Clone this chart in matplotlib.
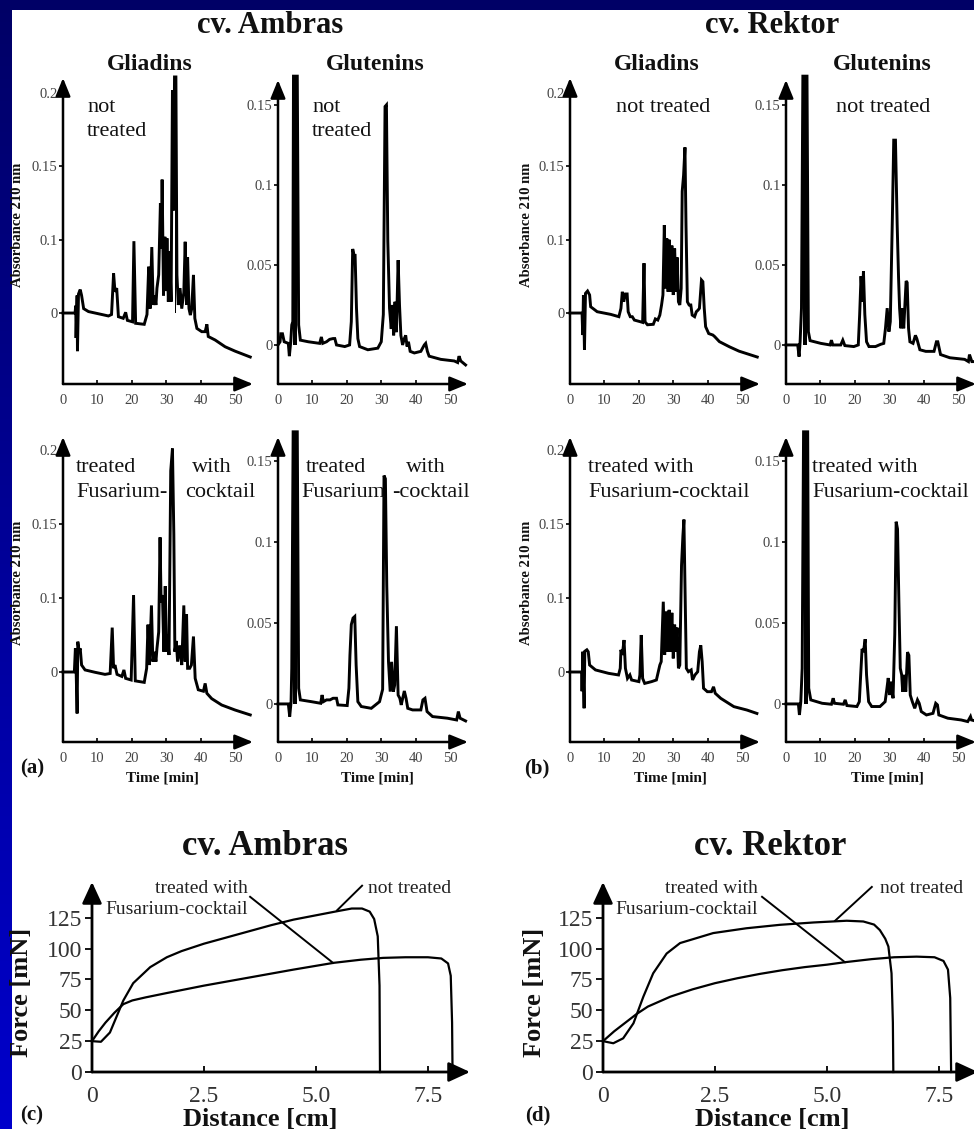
import numpy as np
import matplotlib
matplotlib.use("Agg")
import matplotlib.pyplot as plt

plt.rcParams['font.family'] = ['Liberation Serif', 'DejaVu Serif']

# ---- RP-HPLC chromatograms: (time [min], absorbance) ----
# gliadin panels use the odd original axis (0, 0.1, 0.15, 0.2 equally spaced),
# so their values are stored in tick-position units
amb_gli_nt = [(0, 0), (3.5, 0), (3.7, 0.005), (3.8, -0.017), (4.1, 0.012), (4.2, -0.026),
              (4.5, 0.013), (5.0, 0.016), (5.4, 0.012), (6.0, 0.003), (7.4, 0.001), (10.3, -0.0005),
              (13.2, -0.002), (14.1, -0.001), (14.7, 0.027), (15.1, 0.0145), (15.6, 0.017),
              (16.1, -0.0025), (17.5, -0.0036), (18.2, 0.0005), (18.7, -0.005), (20.2, -0.006),
              (20.6, 0.049), (21.1, -0.007), (23.6, -0.0077), (24.4, -0.001), (24.9, 0.0316),
              (25.3, 0.003), (25.8, 0.045), (26.2, 0.0055), (26.6, 0.012), (27.0, 0.0055),
              (27.3, 0.017), (27.8, 0.026), (28.3, 0.075), (28.6, 0.044), (28.8, 0.091),
              (29.2, 0.012), (29.6, 0.052), (29.9, 0.015), (30.2, 0.051), (30.6, 0.0077),
              (31.0, 0.042), (31.4, 0.0077), (31.8, 0.152), (32.1, 0.07), (32.4, 0.161),
              (32.8, 0.161), (33.1, 0.026), (33.5, 0.0055), (34.0, 0.017), (34.5, 0.003),
              (35.1, 0.014), (35.5, 0.0486), (35.9, 0.0055), (36.2, 0.038), (36.6, 0.003),
              (37.0, -0.0014), (37.4, 0.003), (37.9, 0.026), (38.3, -0.0036), (38.9, -0.0105),
              (40.3, -0.0127), (41.3, -0.0127), (41.8, -0.0077), (42.2, -0.016), (44.2, -0.0184),
              (47.1, -0.023), (50.0, -0.026), (54.4, -0.030)]
amb_gli_tr = [(0, 0), (3.3, 0), (3.6, 0.016), (3.8, 0.0025), (4.1, -0.028), (4.3, 0.0205),
              (4.7, 0.014), (5.0, 0.016), (5.4, 0.0047), (6.4, 0.0014), (9.3, -0.0002),
              (12.2, -0.0016), (13.7, -0.001), (14.3, 0.030), (14.7, 0.0025), (15.1, 0.0047),
              (15.7, -0.0016), (17.1, -0.003), (17.7, 0.0014), (18.2, -0.0043), (19.8, -0.0054),
              (20.5, 0.052), (21.0, -0.006), (23.6, -0.007), (24.3, 0.0025), (24.7, 0.032),
              (25.1, 0.0047), (25.7, 0.045), (26.1, 0.007), (26.6, 0.0137), (27.0, 0.007),
              (27.3, 0.016), (27.8, 0.027), (28.2, 0.091), (28.5, 0.047), (28.9, 0.052),
              (29.3, 0.0137), (29.7, 0.058), (30.1, 0.0137), (30.4, 0.025), (30.8, 0.0115),
              (31.3, 0.136), (31.8, 0.151), (32.2, 0.093), (32.5, 0.0137), (32.9, 0.021),
              (33.3, 0.007), (33.9, 0.018), (34.5, 0.0047), (35.1, 0.045), (35.5, 0.007),
              (35.9, 0.039), (36.2, 0.0025), (36.8, 0.0025), (37.3, 0.0047), (37.9, 0.024),
              (38.4, -0.0043), (39.3, -0.012), (40.8, -0.013), (41.3, -0.0077), (41.8, -0.0144),
              (43.2, -0.018), (46.1, -0.0223), (50.0, -0.0257), (54.4, -0.029)]
amb_glu_nt = [(0, 0), (0.6, 0.002), (0.8, 0.007), (1.3, 0.007), (1.8, 0.002), (3.0, 0.001),
              (3.3, -0.007), (3.7, 0.002), (4.0, 0.0125), (4.3, 0.0146), (4.5, 0.168),
              (5.6, 0.168), (6.0, 0.0125), (6.5, 0.003), (8.8, 0.002), (12.1, 0.001),
              (12.6, 0.005), (13.0, 0.001), (14.1, 0.002), (15.0, 0.0035), (16.0, 0.004),
              (16.5, 0.004), (17.0, 0.0), (19.4, -0.001), (20.8, 0.0), (21.3, 0.0146),
              (21.7, 0.060), (22.1, 0.056), (22.4, 0.056), (22.8, 0.023), (23.2, 0.004),
              (23.7, -0.001), (26.1, -0.003), (29.0, -0.002), (30.0, 0.002), (30.6, 0.019),
              (31.1, 0.149), (31.5, 0.150), (31.9, 0.065), (32.4, 0.023), (32.9, 0.010),
              (33.2, 0.025), (33.6, 0.006), (34.0, 0.027), (34.4, 0.008), (34.9, 0.053),
              (35.3, 0.025), (35.7, 0.006), (36.2, 0.0), (36.7, 0.004), (37.1, 0.006),
              (37.5, -0.001), (37.9, 0.002), (38.4, -0.004), (39.6, -0.005), (41.5, -0.004),
              (42.5, 0.0), (42.9, 0.001), (43.4, -0.004), (43.9, -0.007), (47.3, -0.009),
              (51.2, -0.010), (52.2, -0.011), (52.6, -0.007), (53.1, -0.010), (54.5, -0.0125)]
amb_glu_tr = [(0, 0), (3.0, 0), (3.4, -0.0078), (3.8, 0.0014), (4.0, 0.022), (4.4, 0.168),
              (5.6, 0.168), (6.0, 0.0097), (6.5, 0.0025), (9.7, 0.0014), (12.4, 0.0004),
              (12.8, 0.0055), (13.2, 0.0014), (14.1, 0.0025), (15.1, 0.0025), (16.0, 0.0035),
              (17.0, 0.0035), (17.4, -0.0006), (20.1, -0.001), (20.6, 0.0097), (20.9, 0.030),
              (21.3, 0.049), (21.8, 0.053), (22.3, 0.054), (22.7, 0.024), (23.2, 0.0014),
              (24.2, -0.0016), (27.1, -0.0027), (29.5, 0.0014), (30.4, 0.009), (30.8, 0.141),
              (31.2, 0.139), (31.6, 0.073), (32.1, 0.0261), (32.6, 0.0076), (33.0, 0.026),
              (33.5, 0.0076), (33.9, 0.0117), (34.4, 0.048), (34.9, 0.0055), (35.4, 0.0035),
              (35.8, -0.0006), (36.7, 0.008), (37.2, 0.0035), (37.7, -0.0027), (39.1, -0.0037),
              (41.5, -0.0037), (42.1, 0.0025), (42.7, 0.0035), (43.3, -0.0047), (44.9, -0.0078),
              (49.2, -0.0088), (51.9, -0.0099), (52.4, -0.0047), (52.9, -0.0088), (54.5, -0.0105)]
rek_gli_nt = [(0, 0), (3.5, 0), (3.7, -0.015), (3.9, 0.0123), (4.2, -0.025), (4.5, 0.0134),
              (5.1, 0.015), (5.7, 0.0123), (6.0, 0.0043), (7.9, 0.0009), (11.8, -0.0009),
              (14.2, -0.0025), (14.8, 0.0032), (15.2, 0.0145), (15.6, 0.0077), (16.1, 0.013),
              (16.6, 0.013), (16.9, 0.0009), (17.5, -0.0025), (18.1, -0.0025), (18.7, -0.0048),
              (20.4, -0.0059), (21.1, -0.0064), (21.5, 0.034), (21.8, -0.006), (22.5, -0.008),
              (24.2, -0.0077), (24.8, -0.004), (25.5, -0.0048), (26.1, -0.0014), (26.6, 0.0055),
              (27.0, 0.0123), (27.4, 0.060), (27.8, 0.0168), (28.1, 0.051), (28.5, 0.0145),
              (28.8, 0.050), (29.2, 0.0145), (29.6, 0.046), (30.0, 0.0123), (30.4, 0.044),
              (30.8, 0.0145), (31.1, 0.038), (31.5, 0.0077), (31.9, 0.0055), (32.3, 0.0168),
              (32.6, 0.083), (33.0, 0.094), (33.4, 0.113), (33.7, 0.060), (34.1, 0.0077),
              (34.6, 0.0055), (35.1, 0.0055), (35.5, -0.0014), (36.2, -0.0025), (36.7, 0.0009),
              (37.2, 0.002), (37.6, 0.0032), (38.2, 0.0225), (38.6, 0.0214), (39.0, 0.0032),
              (39.4, -0.0093), (40.3, -0.014), (41.5, -0.015), (42.0, -0.016), (43.4, -0.0195),
              (46.3, -0.023), (49.1, -0.026), (54.4, -0.030)]
rek_gli_tr = [(0, 0), (3.4, 0), (3.5, -0.013), (3.7, 0.0137), (4.1, -0.0245), (4.3, 0.014),
              (4.9, 0.015), (5.3, 0.0137), (5.7, 0.0047), (7.4, 0.0014), (11.2, -0.0009),
              (14.1, -0.002), (14.6, 0.0025), (14.8, 0.015), (15.2, 0.0115), (15.7, 0.0216),
              (16.1, 0.0025), (16.7, -0.0043), (17.4, -0.002), (17.9, -0.0054), (20.0, -0.0065),
              (20.3, -0.002), (20.7, 0.025), (21.1, -0.0043), (21.7, -0.0077), (23.7, -0.0065),
              (25.1, -0.0054), (26.1, 0.0047), (26.5, 0.007), (27.1, 0.0475), (27.5, 0.0115),
              (28.0, 0.041), (28.4, 0.0137), (28.8, 0.042), (29.2, 0.0137), (29.6, 0.040),
              (30.0, 0.0092), (30.4, 0.032), (30.7, 0.0137), (31.1, 0.030), (31.5, 0.0025),
              (31.9, 0.0047), (32.4, 0.072), (32.8, 0.092), (33.1, 0.103), (33.4, 0.059),
              (33.8, 0.0025), (34.4, 0.0002), (35.2, 0.0014), (35.6, -0.0054), (36.3, -0.002),
              (37.1, 0.0002), (37.6, 0.0137), (38.0, 0.018), (38.4, 0.007), (38.8, -0.011),
              (39.9, -0.0133), (41.1, -0.0133), (41.7, -0.01), (42.2, -0.0144), (43.8, -0.0178),
              (47.6, -0.0234), (51.4, -0.0257), (54.3, -0.028)]
rek_glu_nt = [(0, 0), (3.4, 0), (3.8, -0.0073), (4.1, 0.002), (4.5, 0.023), (4.9, 0.168),
              (6.1, 0.168), (6.5, 0.0083), (7.0, 0.0027), (10.1, 0.001), (12.8, 0.0),
              (13.2, 0.003), (13.6, 0.0), (15.9, 0.0), (16.5, 0.003), (17.1, -0.0004),
              (19.7, -0.001), (21.0, 0.0), (21.4, 0.019), (21.8, 0.043), (22.2, 0.027),
              (22.5, 0.046), (22.9, 0.019), (23.4, 0.002), (24.1, -0.001), (26.0, -0.001),
              (27.5, 0.0004), (28.4, 0.001), (28.9, 0.0104), (29.4, 0.023), (29.9, 0.0083),
              (30.3, 0.0146), (30.9, 0.079), (31.3, 0.128), (31.8, 0.128), (32.3, 0.075),
              (32.7, 0.042), (33.0, 0.023), (33.4, 0.0104), (33.8, 0.023), (34.2, 0.0104),
              (34.9, 0.040), (35.2, 0.039), (35.6, 0.0104), (36.0, 0.002), (36.9, 0.001),
              (37.6, 0.006), (38.0, 0.004), (38.9, -0.003), (40.6, -0.004), (43.0, -0.004),
              (43.7, 0.002), (44.1, 0.002), (44.9, -0.006), (47.6, -0.008), (51.9, -0.009),
              (53.0, -0.0104), (53.3, -0.006), (54.0, -0.0104), (55.0, -0.0104)]
rek_glu_tr = [(0, 0), (3.6, 0), (3.9, -0.0068), (4.3, 0.0014), (4.7, 0.022), (5.1, 0.168),
              (6.3, 0.168), (6.6, 0.0097), (7.2, 0.0025), (10.5, 0.0004), (13.2, -0.0002),
              (13.7, 0.0035), (14.1, 0.0004), (16.7, -0.0002), (17.2, 0.0025), (17.7, -0.001),
              (20.6, -0.0016), (21.3, 0.0014), (21.7, 0.018), (22.1, 0.034), (22.5, 0.032),
              (23.0, 0.040), (23.4, 0.018), (24.0, 0.0014), (24.9, -0.0016), (27.3, -0.0016),
              (28.8, 0.0014), (29.2, 0.0076), (29.7, 0.016), (30.1, 0.0055), (30.5, 0.0138),
              (31.1, 0.0035), (31.6, 0.043), (32.0, 0.1125), (32.4, 0.108), (32.8, 0.063),
              (33.2, 0.022), (33.6, 0.018), (33.9, 0.0076), (34.3, 0.018), (34.8, 0.0076),
              (35.3, 0.032), (35.7, 0.030), (36.1, 0.0055), (36.7, 0.0014), (37.4, -0.0027),
              (38.2, 0.0025), (38.7, 0.0004), (39.3, -0.0047), (40.8, -0.0068), (42.7, -0.0058),
              (43.5, 0.0004), (44.0, -0.0006), (44.4, -0.0068), (47.0, -0.0088), (50.9, -0.0099),
              (52.8, -0.0109), (53.6, -0.0078), (53.9, -0.0099), (55.0, -0.0105)]

time_ticks = [0, 10, 20, 30, 40, 50]
gli_tick_pos = [0, 0.05, 0.10, 0.15]
gli_tick_lab = ['0', '0.1', '0.15', '0.2']
glu_tick_pos = [0, 0.05, 0.10, 0.15]
glu_tick_lab = ['0', '0.05', '0.1', '0.15']

# ---- extensigraph curves: distance [cm], force [mN] ----
amb_nt_d = [0, 0.2, 0.4, 0.55, 0.7, 0.92, 1.3, 1.67, 2.0, 2.5, 3.0, 3.5, 4.0, 4.5, 5.0, 5.5,
            5.8, 6.03, 6.2, 6.3, 6.38, 6.42, 6.43]
amb_nt_f = [25, 24.5, 32, 45, 58, 72, 85, 93, 98, 104, 109, 114, 119, 123.5, 127, 130.5,
            132.5, 132.5, 130, 124, 110, 70, 0]
amb_tr_d = [0, 0.15, 0.3, 0.5, 0.7, 0.9, 1.2, 1.67, 2.5, 3.5, 4.5, 5.4, 6.0, 6.5, 7.0, 7.5,
            7.8, 7.95, 8.01, 8.04, 8.05]
amb_tr_f = [25, 33, 40, 48, 55, 58, 60.5, 64, 70, 76.5, 83, 88.5, 91, 92.5, 93, 93,
            92, 88, 78, 40, 0]
rek_nt_d = [0, 0.23, 0.45, 0.68, 0.9, 1.12, 1.42, 1.72, 2.46, 3.2, 3.95, 4.7, 5.44, 5.81,
            6.05, 6.18, 6.3, 6.37, 6.44, 6.47, 6.48]
rek_nt_f = [25, 23.3, 27.3, 39.5, 61, 80, 96, 104.5, 112.6, 116.5, 119.3, 121.2, 122.6, 122,
            119.5, 115, 108, 101.7, 80, 40, 0]
rek_tr_d = [0, 0.25, 0.5, 0.75, 1.0, 1.5, 2.0, 2.5, 3.0, 3.5, 4.0, 4.5, 5.0, 5.4, 6.0, 6.5,
            7.0, 7.4, 7.6, 7.7, 7.75, 7.77]
rek_tr_f = [25, 33, 40, 47, 53, 61, 67, 72, 76, 79.5, 82.5, 85, 87, 89, 91.5, 93,
            93.5, 93, 90, 83, 60, 0]
dist_ticks = [0, 2.5, 5.0, 7.5]
dist_labels = ['0', '2.5', '5.0', '7.5']
force_ticks = [0, 25, 50, 75, 100, 125]

W, H = 974, 1129
fig = plt.figure(figsize=(W / 100, H / 100), dpi=100)
fig.patch.set_facecolor('white')


def box(x0, y0, x1, y1):
    return [x0 / W, 1 - y1 / H, (x1 - x0) / W, (y1 - y0) / H]


def ftext(x, y, s, **kw):
    kw.setdefault('ha', 'center')
    kw.setdefault('va', 'baseline')
    fig.text(x / W, 1 - y / H, s, **kw)


# blue slide border
axb = fig.add_axes([0, 0, 12 / W, 1])
grad = np.linspace(0, 1, 256).reshape(-1, 1)
axb.imshow(np.dstack([0 * grad, 0 * grad, 0.40 + 0.40 * grad]), aspect='auto',
           extent=[0, 1, 0, 1], origin='upper')
axb.set_axis_off()
axt = fig.add_axes([0, 1 - 10 / H, 1, 10 / H])
axt.set_facecolor('#000066')
axt.set_xticks([])
axt.set_yticks([])
for s in axt.spines.values():
    s.set_visible(False)


def arrow_axes(ax, lw, hl, hw):
    for s in ax.spines.values():
        s.set_visible(False)
    ax.patch.set_alpha(0)
    style = '-|>,head_length=%s,head_width=%s' % (hl, hw)
    for tip in [(1, 0), (0, 1)]:
        ax.annotate('', xy=tip, xytext=(0, 0), xycoords='axes fraction',
                    arrowprops=dict(arrowstyle=style, lw=lw, color='k',
                                    shrinkA=0, shrinkB=0))


def chromo(pbox, ylim, tpos, tlab, data):
    ax = fig.add_axes(box(*pbox))
    t, a = np.array(data).T
    ax.plot(t, a, color='k', lw=2.1, solid_joinstyle='miter', clip_on=False)
    # the saturated peaks print as solid bars
    ax.fill_between(t, a, 0, where=a > 0.159, color='k', lw=0, clip_on=False)
    ax.set_xlim(0, 55.2)
    ax.set_ylim(*ylim)
    arrow_axes(ax, 1.8, 1.1, 0.45)
    ax.set_xticks(time_ticks)
    ax.set_xticklabels([str(v) for v in time_ticks])
    ax.set_yticks(tpos)
    ax.set_yticklabels(tlab)
    ax.tick_params(axis='x', direction='in', length=3, width=1.2, pad=7,
                   labelsize=10.5, labelcolor='#444444')
    ax.tick_params(axis='y', direction='out', length=3, width=1.2, pad=1,
                   labelsize=10.5, labelcolor='#444444')
    return ax


gli_top = (-0.0484, 0.1603)
glu_top = (-0.0244, 0.1656)
gli_bot = (-0.0473, 0.1588)
glu_bot = (-0.0235, 0.1648)

chromo((63, 78, 253, 384), gli_top, gli_tick_pos, gli_tick_lab, amb_gli_nt)
chromo((278, 80, 468, 384), glu_top, glu_tick_pos, glu_tick_lab, amb_glu_nt)
chromo((63, 437, 253, 742), gli_bot, gli_tick_pos, gli_tick_lab, amb_gli_tr)
chromo((278, 437, 468, 742), glu_bot, glu_tick_pos, glu_tick_lab, amb_glu_tr)
chromo((570, 78, 760, 384), gli_top, gli_tick_pos, gli_tick_lab, rek_gli_nt)
chromo((786, 80, 976, 384), glu_top, glu_tick_pos, glu_tick_lab, rek_glu_nt)
chromo((570, 437, 760, 742), gli_bot, gli_tick_pos, gli_tick_lab, rek_gli_tr)
chromo((786, 437, 976, 742), glu_bot, glu_tick_pos, glu_tick_lab, rek_glu_tr)


def force(pbox, xmax, nt_d, nt_f, tr_d, tr_f, tr_line, nt_line):
    ax = fig.add_axes(box(*pbox))
    ax.plot(nt_d, nt_f, color='k', lw=1.6, clip_on=False)
    ax.plot(tr_d, tr_f, color='k', lw=1.6, clip_on=False)
    ax.set_xlim(0, xmax)
    ax.set_ylim(0, 154)
    arrow_axes(ax, 2.0, 1.3, 0.6)
    ax.set_xticks(dist_ticks)
    ax.set_xticklabels(dist_labels)
    ax.set_yticks(force_ticks)
    ax.tick_params(axis='x', direction='in', length=4, width=1.3, pad=10,
                   labelsize=17, labelcolor='#333333')
    ax.tick_params(axis='y', direction='out', length=5, width=1.3, pad=2,
                   labelsize=17, labelcolor='#333333')
    for (x0, y0), (x1, y1) in [tr_line, nt_line]:
        ax.plot([x0, x1], [y0, y1], color='k', lw=1.4, clip_on=False)
    return ax


force((92, 882, 470, 1072), 8.44, amb_nt_d, amb_nt_f, amb_tr_d, amb_tr_f,
      ((3.53, 142), (5.38, 88.5)), ((6.03, 151), (5.47, 131)))
force((603, 882, 978, 1072), 8.37, rek_nt_d, rek_nt_f, rek_tr_d, rek_tr_f,
      ((3.55, 142), (5.4, 89)), ((6.0, 150), (5.18, 122.6)))

# ---- texts ----
bold = dict(fontweight='bold', color='#111111')
ftext(270, 33, 'cv. Ambras', fontsize=22, **bold)
ftext(772, 33, 'cv. Rektor', fontsize=22, **bold)
for x, s in [(150, 'Gliadins'), (375, 'Glutenins'), (657, 'Gliadins'), (882, 'Glutenins')]:
    ftext(x, 70, s, fontsize=17, **bold)

lab = dict(fontsize=16, color='#111111')
ftext(87, 112, 'not', ha='left', **lab)
ftext(87, 136, 'treated', ha='left', **lab)
ftext(312, 112, 'not', ha='left', **lab)
ftext(312, 136, 'treated', ha='left', **lab)
ftext(663, 112, 'not treated', **lab)
ftext(883, 112, 'not treated', **lab)

ftext(76, 472, 'treated', ha='left', **lab)
ftext(232, 472, 'with', ha='right', **lab)
ftext(76, 497, 'Fusarium-', ha='left', **lab)
ftext(255, 497, 'cocktail', ha='right', **lab)
ftext(306, 472, 'treated', ha='left', **lab)
ftext(446, 472, 'with', ha='right', **lab)
ftext(301, 497, 'Fusarium', ha='left', **lab)
ftext(470, 497, '-cocktail', ha='right', **lab)
ftext(588, 472, 'treated with', ha='left', **lab)
ftext(588, 497, 'Fusarium-cocktail', ha='left', **lab)
ftext(812, 472, 'treated with', ha='left', **lab)
ftext(812, 497, 'Fusarium-cocktail', ha='left', fontsize=15.5, color='#111111')

for x in [162, 377, 670, 887]:
    ftext(x, 781, 'Time [min]', fontsize=11, **bold)
for x, y in [(18, 225), (18, 583), (527, 225), (527, 583)]:
    ftext(x, y, 'Absorbance 210 nm', fontsize=10.5, rotation=90, va='center', **bold)
ftext(32, 773, '(a)', fontsize=15, **bold)
ftext(537, 773, '(b)', fontsize=15, **bold)

ftext(265, 855, 'cv. Ambras', fontsize=25, **bold)
ftext(770, 855, 'cv. Rektor', fontsize=25, **bold)
for x in [22, 534]:
    ftext(x, 992, 'Force [mN]', fontsize=19, rotation=90, va='center', **bold)
for x in [260, 772]:
    ftext(x, 1126, 'Distance [cm]', fontsize=19, **bold)
ftext(32, 1120, '(c)', fontsize=15, **bold)
ftext(538, 1120, '(d)', fontsize=15, **bold)

ann = dict(fontsize=14, color='#222222')
ftext(248, 893, 'treated with', ha='right', **ann)
ftext(248, 914, 'Fusarium-cocktail', ha='right', **ann)
ftext(368, 893, 'not treated', ha='left', **ann)
ftext(758, 893, 'treated with', ha='right', **ann)
ftext(758, 914, 'Fusarium-cocktail', ha='right', **ann)
ftext(880, 893, 'not treated', ha='left', **ann)

fig.savefig('out.png', dpi=100, facecolor='white')
